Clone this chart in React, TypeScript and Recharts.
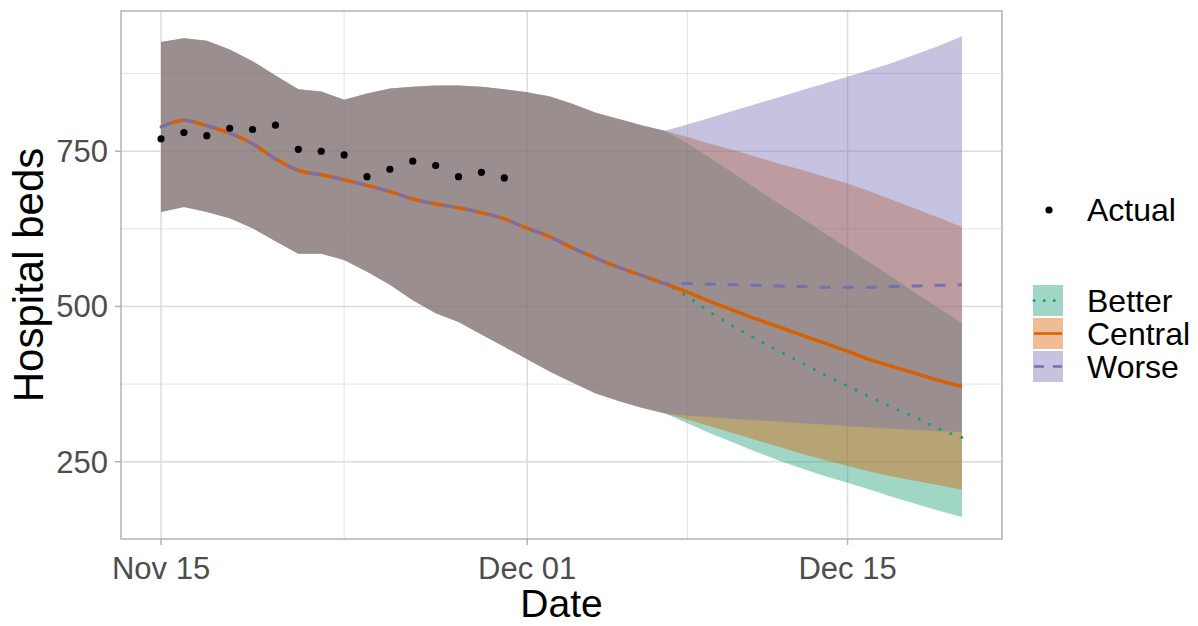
import {
  ComposedChart,
  Area,
  Line,
  Scatter,
  XAxis,
  YAxis,
  CartesianGrid,
  ReferenceArea,
  Label,
} from "recharts";

const FONT = '"Liberation Sans", Arial, Helvetica, sans-serif';

// x axis is days since Nov 15
const tickDays = [0, 16, 30];
const tickLabels = ["Nov 15", "Dec 01", "Dec 15"];
const minorDays = [8, 23];
const yTicks = [250, 500, 750];
const yMinor = [375, 625, 875];

// Nov 15 - Dec 07: the three scenarios share one projection
const sharedLine = [
  789, 800, 791, 779, 762, 738, 719, 712, 704, 695, 685, 673, 665, 659, 651,
  641, 626, 612, 594, 578, 563, 550, 537,
];
const sharedLower = [
  652, 660, 652, 642, 626, 605, 585, 585, 575, 556, 535, 510, 489, 475, 455,
  435, 415, 395, 377, 360, 348, 337, 328,
];
const sharedUpper = [
  926, 932, 928, 914, 895, 872, 850, 846, 833, 843, 851, 854, 856, 856, 854,
  850, 845, 838, 826, 812, 802, 792, 783,
];

// Dec 08 - Dec 20, per scenario
const betterLine = [516, 491, 468, 448, 428, 409, 390, 372, 354, 337, 321, 303, 289];
const betterLower = [312, 296, 281, 266, 252, 239, 227, 216, 205, 193, 182, 171, 161];
const betterUpper = [763, 739, 715, 690, 666, 642, 618, 594, 570, 546, 521, 497, 473];

const centralLine = [523, 508, 494, 480, 467, 454, 441, 428, 414, 403, 392, 381, 371];
const centralLower = [318, 307, 296, 285, 274, 263, 253, 243, 234, 226, 219, 212, 205];
const centralUpper = [773, 762, 752, 741, 730, 720, 709, 698, 685, 671, 657, 643, 628];

const worseLine = [537, 536, 535, 534, 533, 532, 531, 531, 531, 532, 533, 534, 535];
const worseLower = [324, 322, 319, 317, 315, 312, 310, 307, 305, 303, 301, 299, 298];
const worseUpper = [793, 804, 815, 826, 837, 848, 859, 870, 881, 893, 906, 920, 935];

// actual occupancy, Nov 15 - Nov 30
const actual = [770, 780, 775, 787, 785, 792, 753, 750, 744, 709, 721, 734, 727, 709, 716, 707];

const SPLIT = sharedLine.length;
const allDays = [...sharedLine, ...centralLine].map((_, i) => i);

const rows = allDays.map((day) => {
  const s = day < SPLIT;
  const i = day - SPLIT;
  return {
    day,
    betterBand: s ? [sharedLower[day], sharedUpper[day]] : [betterLower[i], betterUpper[i]],
    centralBand: s ? [sharedLower[day], sharedUpper[day]] : [centralLower[i], centralUpper[i]],
    worseBand: s ? [sharedLower[day], sharedUpper[day]] : [worseLower[i], worseUpper[i]],
    better: s ? sharedLine[day] : betterLine[i],
    central: s ? sharedLine[day] : centralLine[i],
    worse: s ? sharedLine[day] : worseLine[i],
  };
});

const actualRows = actual.map((v, day) => ({ day, actual: v }));

const BETTER = "#1B9E77";
const CENTRAL = "#D95F02";
const WORSE = "#7570B3";
const ALPHA = 0.42;

const X_DOMAIN = [-1.75, 36.75];
const Y_DOMAIN = [125.6, 975.8];

const Dot = (props: any) => {
  const { cx, cy } = props;
  if (typeof cx !== "number" || typeof cy !== "number") return null;
  return <circle cx={cx} cy={cy} r={3.6} fill="#000" />;
};

function ChartLegend() {
  const keys = [
    { name: "Better", color: BETTER, dash: "0.1 10", y: 285 },
    { name: "Central", color: CENTRAL, dash: undefined, y: 318 },
    { name: "Worse", color: WORSE, dash: "10 9", y: 351 },
  ];
  return (
    <svg
      width={1198}
      height={626}
      style={{ position: "absolute", left: 0, top: 0, pointerEvents: "none" }}
    >
      <circle cx={1049} cy={210} r={3.6} fill="#000" />
      <text x={1087} y={221} fontSize={32} fontFamily={FONT} fill="#000">
        Actual
      </text>
      {keys.map((k) => (
        <g key={k.name}>
          <rect x={1033} y={k.y} width={30} height={31} fill={k.color} fillOpacity={ALPHA} />
          <line
            x1={1034}
            x2={1062}
            y1={k.y + 15.5}
            y2={k.y + 15.5}
            stroke={k.color}
            strokeWidth={k.dash === "0.1 10" ? 3 : 2.5}
            strokeDasharray={k.dash}
            strokeLinecap={k.dash === "0.1 10" ? "round" : "butt"}
          />
          <text x={1087} y={k.y + 27} fontSize={32} fontFamily={FONT} fill="#000">
            {k.name}
          </text>
        </g>
      ))}
    </svg>
  );
}

export default function App() {
  const tickStyle = { fontSize: 31, fill: "#4d4d4d", fontFamily: FONT };
  const titleStyle = { fontSize: 39, fill: "#000", fontFamily: FONT };
  return (
    <div
      style={{
        position: "absolute",
        left: 0,
        top: 0,
        width: 1198,
        height: 626,
        background: "#fff",
        fontFamily: FONT,
      }}
    >
      <ComposedChart
        width={1198}
        height={626}
        data={rows}
        margin={{ top: 11, right: 196, bottom: 0, left: 0 }}
      >
        <CartesianGrid
          horizontalValues={yMinor}
          verticalValues={minorDays}
          stroke="#e3e3e3"
          strokeWidth={1}
        />
        <CartesianGrid
          horizontalValues={yTicks}
          verticalValues={tickDays}
          stroke="#dcdcdc"
          strokeWidth={1.5}
        />

        <XAxis
          type="number"
          dataKey="day"
          domain={X_DOMAIN}
          allowDataOverflow
          ticks={tickDays}
          interval={0}
          tickFormatter={(v) => tickLabels[tickDays.indexOf(v)]}
          height={87}
          axisLine={false}
          tickLine={{ stroke: "#b3b3b3", strokeWidth: 1.5 }}
          tickSize={6}
          tickMargin={12}
          tick={tickStyle}
        >
          <Label value="Date" position="insideBottom" offset={9} style={titleStyle} />
        </XAxis>
        <YAxis
          type="number"
          domain={Y_DOMAIN}
          allowDataOverflow
          ticks={yTicks}
          interval={0}
          width={121}
          axisLine={false}
          tickLine={{ stroke: "#b3b3b3", strokeWidth: 1.5 }}
          tickSize={6}
          tickMargin={7}
          tick={tickStyle}
        >
          <Label
            value="Hospital beds"
            angle={-90}
            position="insideLeft"
            offset={28}
            style={{ ...titleStyle, fontSize: 42, textAnchor: "middle" }}
          />
        </YAxis>

        <Area
          type="linear"
          dataKey="betterBand"
          stroke="none"
          fill={BETTER}
          fillOpacity={ALPHA}
          dot={false}
          activeDot={false}
          isAnimationActive={false}
        />
        <Area
          type="linear"
          dataKey="centralBand"
          stroke="none"
          fill={CENTRAL}
          fillOpacity={ALPHA}
          dot={false}
          activeDot={false}
          isAnimationActive={false}
        />
        <Area
          type="linear"
          dataKey="worseBand"
          stroke="none"
          fill={WORSE}
          fillOpacity={ALPHA}
          dot={false}
          activeDot={false}
          isAnimationActive={false}
        />

        <Line
          type="monotone"
          dataKey="better"
          stroke={BETTER}
          strokeWidth={3}
          strokeDasharray="0.1 11.5"
          strokeLinecap="round"
          dot={false}
          activeDot={false}
          isAnimationActive={false}
        />
        <Line
          type="monotone"
          dataKey="central"
          stroke={CENTRAL}
          strokeWidth={3.5}
          dot={false}
          activeDot={false}
          isAnimationActive={false}
        />
        <Line
          type="monotone"
          dataKey="worse"
          stroke={WORSE}
          strokeWidth={3}
          strokeDasharray="11 12"
          dot={false}
          activeDot={false}
          isAnimationActive={false}
        />

        <Scatter
          data={actualRows}
          dataKey="actual"
          shape={<Dot />}
          isAnimationActive={false}
        />

        <ReferenceArea
          x1={X_DOMAIN[0]}
          x2={X_DOMAIN[1]}
          y1={Y_DOMAIN[0]}
          y2={Y_DOMAIN[1]}
          fill="none"
          stroke="#b3b3b3"
          strokeWidth={1.5}
          ifOverflow="visible"
        />
      </ComposedChart>
      <ChartLegend />
    </div>
  );
}
